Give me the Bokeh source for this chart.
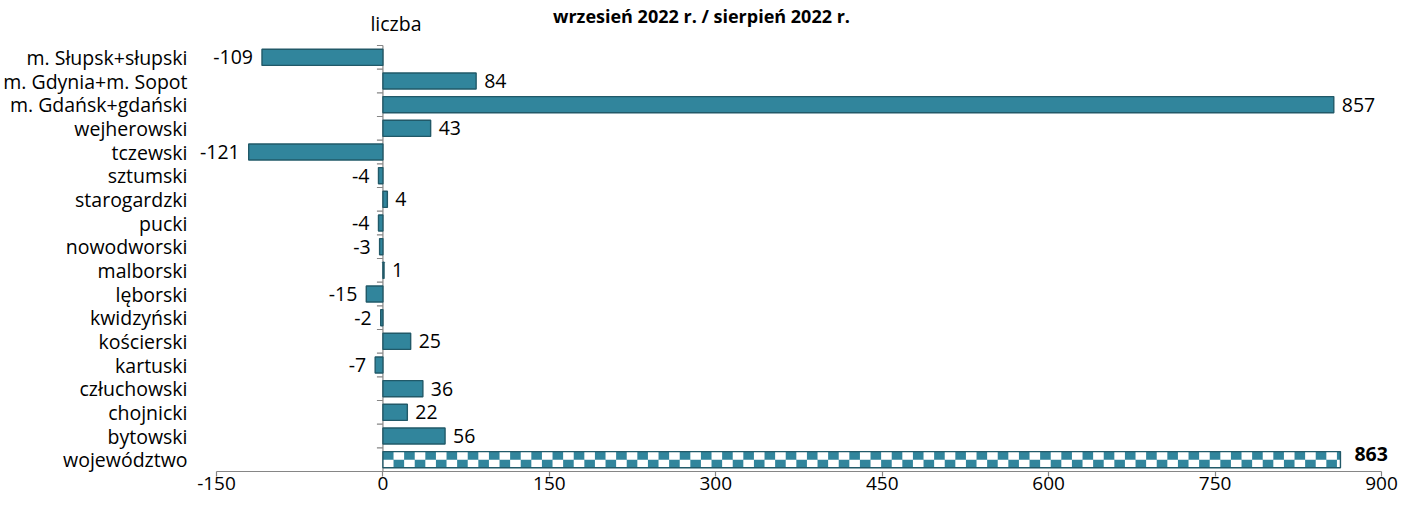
import numpy as np
from bokeh.plotting import figure
from bokeh.models import Range1d, FixedTicker, ColumnDataSource
from bokeh.core.properties import value
from bokeh.embed import file_html
from bokeh.resources import INLINE

# ---- data (top to bottom as in the chart) ----
categories = [
    "m. Słupsk+słupski", "m. Gdynia+m. Sopot", "m. Gdańsk+gdański", "wejherowski",
    "tczewski", "sztumski", "starogardzki", "pucki", "nowodworski", "malborski",
    "lęborski", "kwidzyński", "kościerski", "kartuski", "człuchowski", "chojnicki",
    "bytowski", "województwo",
]
values = [-109, 84, 857, 43, -121, -4, 4, -4, -3, 1, -15, -2, 25, -7, 36, 22, 56, 863]
total_category = "województwo"
x_ticks = [-150, 0, 150, 300, 450, 600, 750, 900]
unit_label = "liczba"
title_text = "wrzesień 2022 r. / sierpień 2022 r."

# ---- style / layout ----
TEAL = "#31859C"
DARK = "#215968"
AXIS = "#868686"
FONT = "Open Sans"
FS = "19.5px"
FS_TICK = "19px"

W, H = 1399, 501
LEFT, BOTTOM = 198, 30
AX_L, AX_R = 216, 1381          # pixel positions of first / last x tick
CAT_TOP = 45                     # pixel top of the category area
x0, x1 = x_ticks[0], x_ticks[-1]
px_x = (AX_R - AX_L) / (x1 - x0)
frame_bottom = H - BOTTOM
n = len(categories)
px_y = (frame_bottom - CAT_TOP) / n

ypos = [n - i for i in range(n)]            # numeric category positions
pos_of = dict(zip(categories, ypos))

p = figure(width=W, height=H,
           x_range=Range1d(x0 - (AX_L - LEFT) / px_x, x1 + (W - AX_R) / px_x),
           y_range=Range1d(0.5, 0.5 + frame_bottom / px_y),
           output_backend="svg", toolbar_location=None,
           min_border_left=LEFT, min_border_right=0, min_border_top=0,
           min_border_bottom=BOTTOM)
p.outline_line_color = None
p.grid.visible = False
p.background_fill_color = "white"

# x axis
p.xaxis.ticker = FixedTicker(ticks=x_ticks)
p.xaxis.bounds = (x0, x1)
p.xaxis.major_label_overrides = {t: str(t) for t in x_ticks}
p.xaxis.axis_line_color = AXIS
p.xaxis.axis_line_width = 1.2
p.xaxis.major_tick_line_color = AXIS
p.xaxis.major_tick_line_width = 1.2
p.xaxis.major_tick_out = 5
p.xaxis.major_tick_in = 0
p.xaxis.minor_tick_line_color = None
p.xaxis.major_label_standoff = 0
p.xaxis.major_label_text_font = FONT
p.xaxis.major_label_text_font_size = FS_TICK
p.xaxis.major_label_text_color = "black"

# y axis (category names)
p.yaxis.ticker = FixedTicker(ticks=ypos)
p.yaxis.major_label_overrides = {pos: c for c, pos in zip(categories, ypos)}
p.yaxis.axis_line_color = None
p.yaxis.major_tick_line_color = None
p.yaxis.minor_tick_line_color = None
p.yaxis.major_label_standoff = 5
p.yaxis.major_label_text_font = FONT
p.yaxis.major_label_text_font_size = FS
p.yaxis.major_label_text_color = "black"

# zero line with category ticks
bounds = [k + 0.5 for k in range(n + 1)]
p.segment(x0=[0], x1=[0], y0=[bounds[0]], y1=[bounds[-1]], line_color=AXIS, line_width=1.2)
tick_len = 6 / px_x
p.segment(x0=[-tick_len] * len(bounds), x1=[0] * len(bounds), y0=bounds, y1=bounds,
          line_color=AXIS, line_width=1.2)

# regular bars
reg_c = [c for c in categories if c != total_category]
reg_y = [pos_of[c] for c in reg_c]
reg_v = [v for c, v in zip(categories, values) if c != total_category]
BH = 0.68
p.hbar(y=reg_y, left=0, right=reg_v, height=BH, fill_color=TEAL,
       line_color=DARK, line_width=1.4)

# total bar (checkerboard)
tot = values[categories.index(total_category)]
yc = pos_of[total_category]
p.hbar(y=[yc], left=0, right=[tot], height=BH, fill_color=TEAL, line_color=None)
cell_w = 10.6 / px_x
ncell = int(np.ceil(tot / cell_w))
lefts, rights, bots, tops = [], [], [], []
for r in range(2):
    b = yc - BH / 2 + r * BH / 2
    for i in range(ncell):
        if (i + r) % 2 == 0:
            l = i * cell_w
            lefts.append(l)
            rights.append(min(l + cell_w, tot))
            bots.append(b)
            tops.append(b + BH / 2)
p.quad(left=lefts, right=rights, bottom=bots, top=tops, fill_color="white", line_color=None)
p.hbar(y=[yc], left=0, right=[tot], height=BH, fill_color=None,
       line_color=DARK, line_width=1.4)

# value labels
src = ColumnDataSource(dict(
    x=reg_v, y=reg_y, t=[str(v) for v in reg_v],
    off=[8 if v >= 0 else -9 for v in reg_v],
    al=["left" if v >= 0 else "right" for v in reg_v],
))
p.text(x="x", y="y", text="t", x_offset="off", text_align="al", text_baseline="middle",
       text_font=value(FONT), text_font_size=FS, text_color="black", source=src)
p.text(x=[tot], y=[yc], text=[str(tot)], x_offset=14, y_offset=-6,
       text_align="left", text_baseline="middle", text_font=value(FONT),
       text_font_size=FS, text_font_style="bold", text_color="black")

# unit label and title
p.text(x=[0], y=[0.5 + (frame_bottom - 23) / px_y], text=[unit_label], x_offset=13,
       text_align="center", text_baseline="middle", text_font=value(FONT),
       text_font_size=FS, text_color="black")
p.text(x=[x0 + (701 - AX_L) / px_x], y=[0.5 + (frame_bottom - 15) / px_y], text=[title_text],
       text_align="center", text_baseline="alphabetic", text_font=value(FONT),
       text_font_size="18px", text_font_style="bold", text_color="black")

open("out.html", "w").write(file_html(p, INLINE))
